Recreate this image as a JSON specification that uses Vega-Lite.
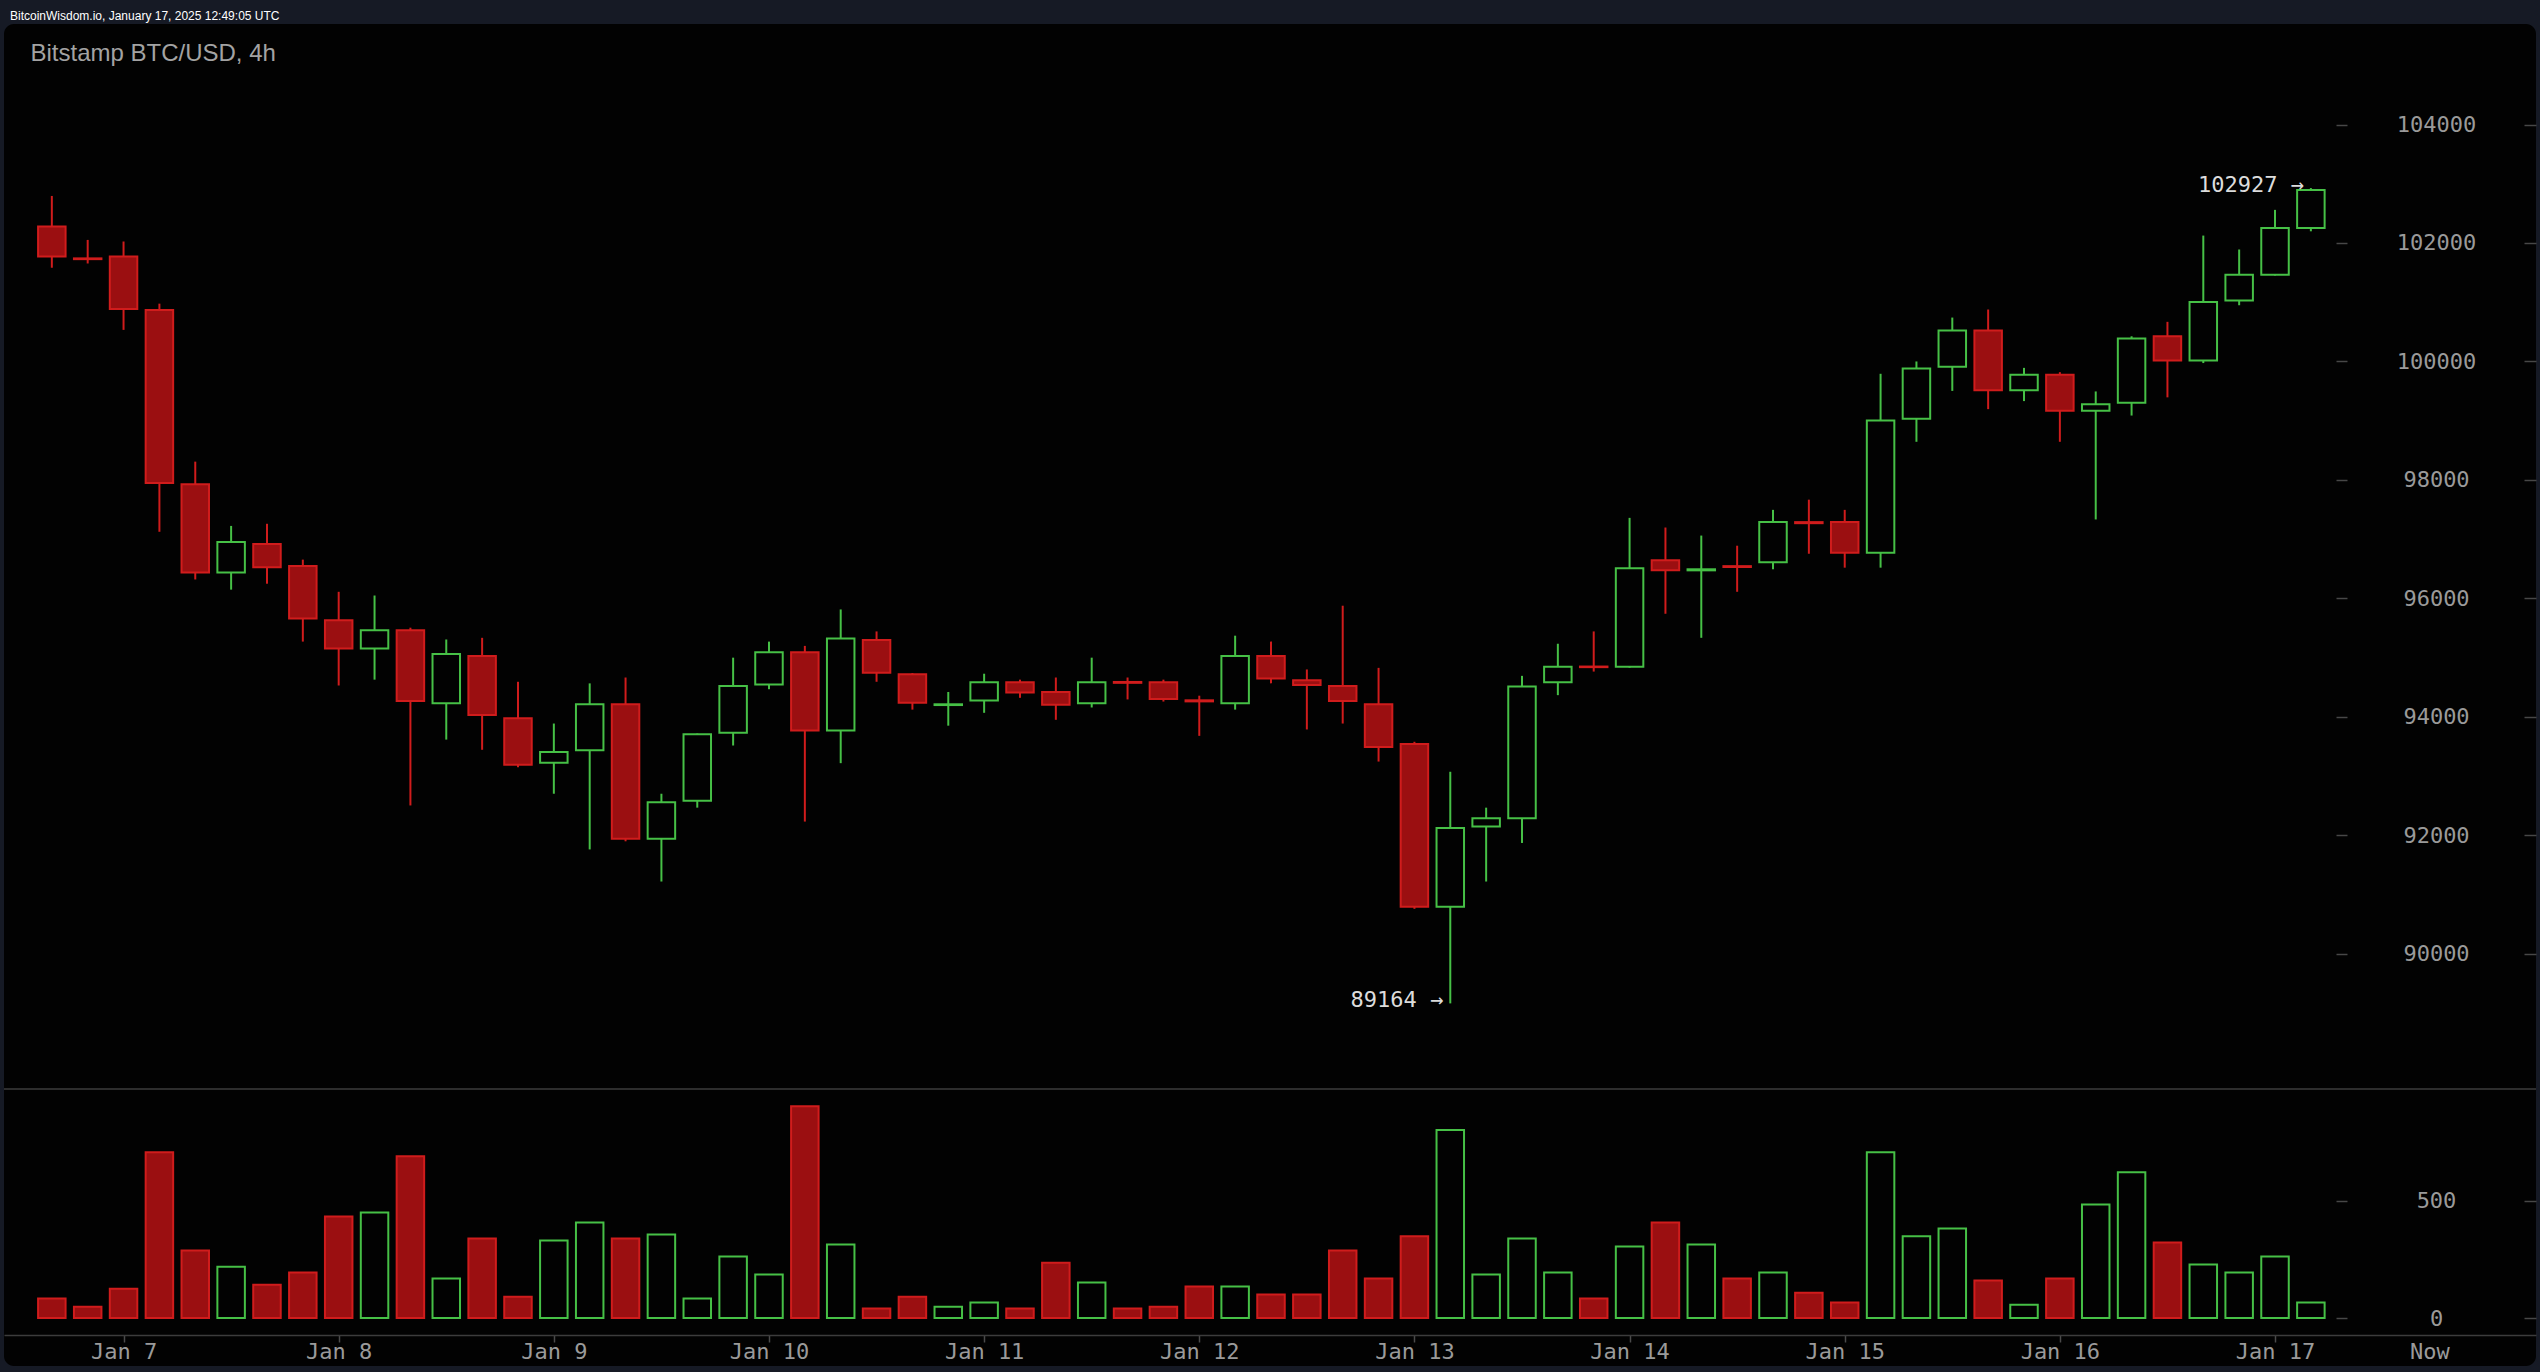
{
  "$schema": "https://vega.github.io/schema/vega-lite/v6.json",
  "width": 2532,
  "height": 1342,
  "autosize": "none",
  "padding": {"left": 4, "top": 24, "right": 4, "bottom": 6},
  "background": "#161a25",
  "config": {
    "view": {"fill": "#020202", "stroke": null, "cornerRadius": 10},
    "axisX": {"domainColor": "#3c3c3c", "domainWidth": 1.5, "tickSize": 7, "tickWidth": 1.5, "tickColor": "#4a4a4a", "labelColor": "#9a9a9a", "labelFont": "DejaVu Sans Mono", "labelFontSize": 22, "labelBaseline": "middle", "labelPadding": 9, "labelOverlap": false, "labelFlush": false, "grid": false},
    "axisY": {"domain": false, "grid": false, "tickColor": "#474747", "tickWidth": 1.5, "labelColor": "#9a9a9a", "labelFont": "DejaVu Sans Mono", "labelFontSize": 22, "labelAlign": "center", "labelBaseline": "middle", "labelFlush": false, "labelOverlap": false}
  },
  "title": {"text": "BitcoinWisdom.io, January 17, 2025 12:49:05 UTC", "anchor": "start", "frame": "group", "color": "#ffffff", "font": "Liberation Sans", "fontSize": 12, "fontWeight": "normal", "offset": 6, "dx": 6, "dy": 14, "baseline": "alphabetic"},
  "data": {"values": [
    {"t": "2025-01-06T16:00:00Z", "o": 102278, "h": 102794, "l": 101582, "c": 101772, "v": 83},
    {"t": "2025-01-06T20:00:00Z", "o": 101740, "h": 102052, "l": 101654, "c": 101727, "v": 48},
    {"t": "2025-01-07T00:00:00Z", "o": 101772, "h": 102025, "l": 100533, "c": 100886, "v": 125},
    {"t": "2025-01-07T04:00:00Z", "o": 100868, "h": 100976, "l": 97125, "c": 97948, "v": 707},
    {"t": "2025-01-07T08:00:00Z", "o": 97929, "h": 98309, "l": 96320, "c": 96438, "v": 288},
    {"t": "2025-01-07T12:00:00Z", "o": 96438, "h": 97224, "l": 96148, "c": 96953, "v": 219},
    {"t": "2025-01-07T16:00:00Z", "o": 96917, "h": 97260, "l": 96248, "c": 96528, "v": 142},
    {"t": "2025-01-07T20:00:00Z", "o": 96546, "h": 96655, "l": 95271, "c": 95660, "v": 194},
    {"t": "2025-01-08T00:00:00Z", "o": 95633, "h": 96112, "l": 94530, "c": 95154, "v": 433},
    {"t": "2025-01-08T04:00:00Z", "o": 95154, "h": 96049, "l": 94629, "c": 95461, "v": 450},
    {"t": "2025-01-08T08:00:00Z", "o": 95461, "h": 95506, "l": 92505, "c": 94268, "v": 689},
    {"t": "2025-01-08T12:00:00Z", "o": 94231, "h": 95307, "l": 93617, "c": 95063, "v": 168},
    {"t": "2025-01-08T16:00:00Z", "o": 95027, "h": 95335, "l": 93445, "c": 94033, "v": 339},
    {"t": "2025-01-08T20:00:00Z", "o": 93978, "h": 94593, "l": 93150, "c": 93192, "v": 91},
    {"t": "2025-01-09T00:00:00Z", "o": 93228, "h": 93888, "l": 92703, "c": 93409, "v": 330},
    {"t": "2025-01-09T04:00:00Z", "o": 93436, "h": 94566, "l": 91763, "c": 94213, "v": 407},
    {"t": "2025-01-09T08:00:00Z", "o": 94213, "h": 94665, "l": 91900, "c": 91944, "v": 339},
    {"t": "2025-01-09T12:00:00Z", "o": 91944, "h": 92703, "l": 91221, "c": 92559, "v": 356},
    {"t": "2025-01-09T16:00:00Z", "o": 92586, "h": 93720, "l": 92468, "c": 93707, "v": 83},
    {"t": "2025-01-09T20:00:00Z", "o": 93734, "h": 95000, "l": 93517, "c": 94521, "v": 262},
    {"t": "2025-01-10T00:00:00Z", "o": 94548, "h": 95271, "l": 94467, "c": 95090, "v": 185},
    {"t": "2025-01-10T04:00:00Z", "o": 95090, "h": 95199, "l": 92233, "c": 93770, "v": 903},
    {"t": "2025-01-10T08:00:00Z", "o": 93770, "h": 95814, "l": 93219, "c": 95325, "v": 313},
    {"t": "2025-01-10T12:00:00Z", "o": 95298, "h": 95443, "l": 94593, "c": 94747, "v": 40},
    {"t": "2025-01-10T16:00:00Z", "o": 94720, "h": 94740, "l": 94123, "c": 94240, "v": 91},
    {"t": "2025-01-10T20:00:00Z", "o": 94200, "h": 94421, "l": 93852, "c": 94213, "v": 48},
    {"t": "2025-01-11T00:00:00Z", "o": 94277, "h": 94729, "l": 94069, "c": 94584, "v": 66},
    {"t": "2025-01-11T04:00:00Z", "o": 94584, "h": 94629, "l": 94322, "c": 94412, "v": 40},
    {"t": "2025-01-11T08:00:00Z", "o": 94421, "h": 94665, "l": 93951, "c": 94204, "v": 236},
    {"t": "2025-01-11T12:00:00Z", "o": 94231, "h": 95000, "l": 94159, "c": 94584, "v": 151},
    {"t": "2025-01-11T16:00:00Z", "o": 94590, "h": 94665, "l": 94295, "c": 94575, "v": 40},
    {"t": "2025-01-11T20:00:00Z", "o": 94584, "h": 94629, "l": 94259, "c": 94304, "v": 48},
    {"t": "2025-01-12T00:00:00Z", "o": 94280, "h": 94358, "l": 93680, "c": 94262, "v": 134},
    {"t": "2025-01-12T04:00:00Z", "o": 94231, "h": 95371, "l": 94123, "c": 95027, "v": 134},
    {"t": "2025-01-12T08:00:00Z", "o": 95027, "h": 95271, "l": 94566, "c": 94647, "v": 100},
    {"t": "2025-01-12T12:00:00Z", "o": 94620, "h": 94801, "l": 93788, "c": 94539, "v": 100},
    {"t": "2025-01-12T16:00:00Z", "o": 94521, "h": 95877, "l": 93888, "c": 94268, "v": 288},
    {"t": "2025-01-12T20:00:00Z", "o": 94213, "h": 94828, "l": 93246, "c": 93490, "v": 168},
    {"t": "2025-01-13T00:00:00Z", "o": 93544, "h": 93580, "l": 90760, "c": 90796, "v": 348},
    {"t": "2025-01-13T04:00:00Z", "o": 90796, "h": 93074, "l": 89164, "c": 92125, "v": 801},
    {"t": "2025-01-13T08:00:00Z", "o": 92152, "h": 92468, "l": 91221, "c": 92288, "v": 185},
    {"t": "2025-01-13T12:00:00Z", "o": 92288, "h": 94693, "l": 91872, "c": 94512, "v": 339},
    {"t": "2025-01-13T16:00:00Z", "o": 94584, "h": 95235, "l": 94367, "c": 94846, "v": 194},
    {"t": "2025-01-13T20:00:00Z", "o": 94850, "h": 95443, "l": 94765, "c": 94840, "v": 83},
    {"t": "2025-01-14T00:00:00Z", "o": 94846, "h": 97360, "l": 94830, "c": 96510, "v": 305},
    {"t": "2025-01-14T04:00:00Z", "o": 96646, "h": 97197, "l": 95741, "c": 96474, "v": 407},
    {"t": "2025-01-14T08:00:00Z", "o": 96474, "h": 97061, "l": 95335, "c": 96492, "v": 313},
    {"t": "2025-01-14T12:00:00Z", "o": 96545, "h": 96890, "l": 96112, "c": 96530, "v": 168},
    {"t": "2025-01-14T16:00:00Z", "o": 96609, "h": 97495, "l": 96492, "c": 97288, "v": 194},
    {"t": "2025-01-14T20:00:00Z", "o": 97288, "h": 97667, "l": 96754, "c": 97270, "v": 108},
    {"t": "2025-01-15T00:00:00Z", "o": 97288, "h": 97495, "l": 96519, "c": 96772, "v": 66},
    {"t": "2025-01-15T04:00:00Z", "o": 96772, "h": 99792, "l": 96519, "c": 99005, "v": 707},
    {"t": "2025-01-15T08:00:00Z", "o": 99033, "h": 100000, "l": 98644, "c": 99882, "v": 348},
    {"t": "2025-01-15T12:00:00Z", "o": 99910, "h": 100741, "l": 99503, "c": 100524, "v": 382},
    {"t": "2025-01-15T16:00:00Z", "o": 100524, "h": 100877, "l": 99195, "c": 99512, "v": 160},
    {"t": "2025-01-15T20:00:00Z", "o": 99512, "h": 99892, "l": 99331, "c": 99774, "v": 57},
    {"t": "2025-01-16T00:00:00Z", "o": 99774, "h": 99819, "l": 98644, "c": 99168, "v": 168},
    {"t": "2025-01-16T04:00:00Z", "o": 99168, "h": 99494, "l": 97333, "c": 99277, "v": 484},
    {"t": "2025-01-16T08:00:00Z", "o": 99304, "h": 100425, "l": 99087, "c": 100389, "v": 621},
    {"t": "2025-01-16T12:00:00Z", "o": 100425, "h": 100669, "l": 99394, "c": 100018, "v": 322},
    {"t": "2025-01-16T16:00:00Z", "o": 100018, "h": 102125, "l": 99973, "c": 101004, "v": 228},
    {"t": "2025-01-16T20:00:00Z", "o": 101031, "h": 101890, "l": 100949, "c": 101465, "v": 194},
    {"t": "2025-01-17T00:00:00Z", "o": 101465, "h": 102559, "l": 101450, "c": 102251, "v": 262},
    {"t": "2025-01-17T04:00:00Z", "o": 102251, "h": 102927, "l": 102197, "c": 102893, "v": 66}
  ]},
  "layer": [
    {
      "layer": [
        {
          "mark": {"type": "rule", "strokeWidth": 2},
          "encoding": {
            "x": {"field": "t", "type": "temporal", "scale": {"type": "utc", "domain": [1736162000000, 1737174800000]}, "axis": {"orient": "bottom", "offset": -31, "values": [1736208000000, 1736294400000, 1736380800000, 1736467200000, 1736553600000, 1736640000000, 1736726400000, 1736812800000, 1736899200000, 1736985600000, 1737072000000, 1737134000000], "labelExpr": "time(datum.value) == 1737134000000 ? 'Now' : utcFormat(datum.value, '%b %-d')", "tickOpacity": {"condition": {"test": "time(datum.value) == 1737134000000", "value": 0}, "value": 1}, "title": null}},
            "y": {"field": "l", "type": "quantitative", "scale": {"domain": [83043, 105696.5], "nice": false, "zero": false}, "axis": {"orient": "right", "offset": -200, "values": [90000, 92000, 94000, 96000, 98000, 100000, 102000, 104000], "format": "d", "tickSize": 11, "labelPadding": 89, "title": "Bitstamp BTC/USD, 4h", "titleX": -2306, "titleY": 36, "titleAngle": 0, "titleAlign": "left", "titleBaseline": "alphabetic", "titleColor": "#a3a3a3", "titleFont": "Liberation Sans", "titleFontSize": 24, "titleFontWeight": "normal"}},
            "y2": {"field": "h"},
            "color": {"condition": {"test": "datum.c >= datum.o", "value": "#46c046"}, "value": "#d01c1c"}
          }
        },
        {
          "mark": {"type": "bar", "width": 27.5, "strokeWidth": 2},
          "encoding": {
            "x": {"field": "t", "type": "temporal", "scale": {"type": "utc", "domain": [1736162000000, 1737174800000]}, "axis": {"orient": "bottom", "offset": -31, "values": [1736208000000, 1736294400000, 1736380800000, 1736467200000, 1736553600000, 1736640000000, 1736726400000, 1736812800000, 1736899200000, 1736985600000, 1737072000000, 1737134000000], "labelExpr": "time(datum.value) == 1737134000000 ? 'Now' : utcFormat(datum.value, '%b %-d')", "tickOpacity": {"condition": {"test": "time(datum.value) == 1737134000000", "value": 0}, "value": 1}, "title": null}},
            "y": {"field": "o", "type": "quantitative", "scale": {"domain": [83043, 105696.5], "nice": false, "zero": false}, "axis": {"orient": "right", "offset": -12, "values": [90000, 92000, 94000, 96000, 98000, 100000, 102000, 104000], "tickSize": 12, "labels": false, "title": null}},
            "y2": {"field": "c"},
            "fill": {"condition": {"test": "datum.c >= datum.o", "value": "#020202"}, "value": "#9b0f11"},
            "stroke": {"condition": {"test": "datum.c >= datum.o", "value": "#46c046"}, "value": "#d01c1c"}
          }
        },
        {
          "data": {"values": [
            {"t": "2025-01-17T04:00:00Z", "p": 102927, "label": "102927 →"},
            {"t": "2025-01-13T04:00:00Z", "p": 89164, "label": "89164 →"}
          ]},
          "mark": {"type": "text", "align": "right", "baseline": "middle", "dx": -7, "dy": -3, "font": "DejaVu Sans Mono", "fontSize": 22, "color": "#dcdcdc"},
          "encoding": {
            "x": {"field": "t", "type": "temporal", "scale": {"type": "utc", "domain": [1736162000000, 1737174800000]}, "axis": {"orient": "bottom", "offset": -31, "values": [1736208000000, 1736294400000, 1736380800000, 1736467200000, 1736553600000, 1736640000000, 1736726400000, 1736812800000, 1736899200000, 1736985600000, 1737072000000, 1737134000000], "labelExpr": "time(datum.value) == 1737134000000 ? 'Now' : utcFormat(datum.value, '%b %-d')", "tickOpacity": {"condition": {"test": "time(datum.value) == 1737134000000", "value": 0}, "value": 1}, "title": null}},
            "y": {"field": "p", "type": "quantitative", "scale": {"domain": [83043, 105696.5], "nice": false, "zero": false}, "axis": null},
            "text": {"field": "label"}
          }
        }
      ],
      "resolve": {"axis": {"y": "independent"}}
    },
    {
      "layer": [
        {
          "mark": {"type": "bar", "width": 27.5, "strokeWidth": 2},
          "encoding": {
            "x": {"field": "t", "type": "temporal", "scale": {"type": "utc", "domain": [1736162000000, 1737174800000]}, "axis": {"orient": "bottom", "offset": -31, "values": [1736208000000, 1736294400000, 1736380800000, 1736467200000, 1736553600000, 1736640000000, 1736726400000, 1736812800000, 1736899200000, 1736985600000, 1737072000000, 1737134000000], "labelExpr": "time(datum.value) == 1737134000000 ? 'Now' : utcFormat(datum.value, '%b %-d')", "tickOpacity": {"condition": {"test": "time(datum.value) == 1737134000000", "value": 0}, "value": 1}, "title": null}},
            "y": {"field": "v", "type": "quantitative", "scale": {"domain": [-204.6, 5516], "nice": false, "zero": false}, "axis": {"orient": "right", "offset": -200, "values": [0, 500], "format": "d", "tickSize": 11, "labelPadding": 89, "title": null}},
            "y2": {"datum": 0},
            "fill": {"condition": {"test": "datum.c >= datum.o", "value": "#020202"}, "value": "#9b0f11"},
            "stroke": {"condition": {"test": "datum.c >= datum.o", "value": "#46c046"}, "value": "#d01c1c"}
          }
        },
        {
          "data": {"values": [{}]},
          "mark": {"type": "rule", "color": "#3c3c3c", "strokeWidth": 1.5},
          "encoding": {
            "y": {"datum": 976, "type": "quantitative", "scale": {"domain": [-204.6, 5516], "nice": false, "zero": false}, "axis": {"orient": "right", "offset": -12, "values": [0, 500], "tickSize": 12, "labels": false, "title": null}}
          }
        }
      ],
      "resolve": {"axis": {"y": "independent"}}
    }
  ],
  "resolve": {"scale": {"y": "independent"}, "axis": {"y": "independent"}}
}
